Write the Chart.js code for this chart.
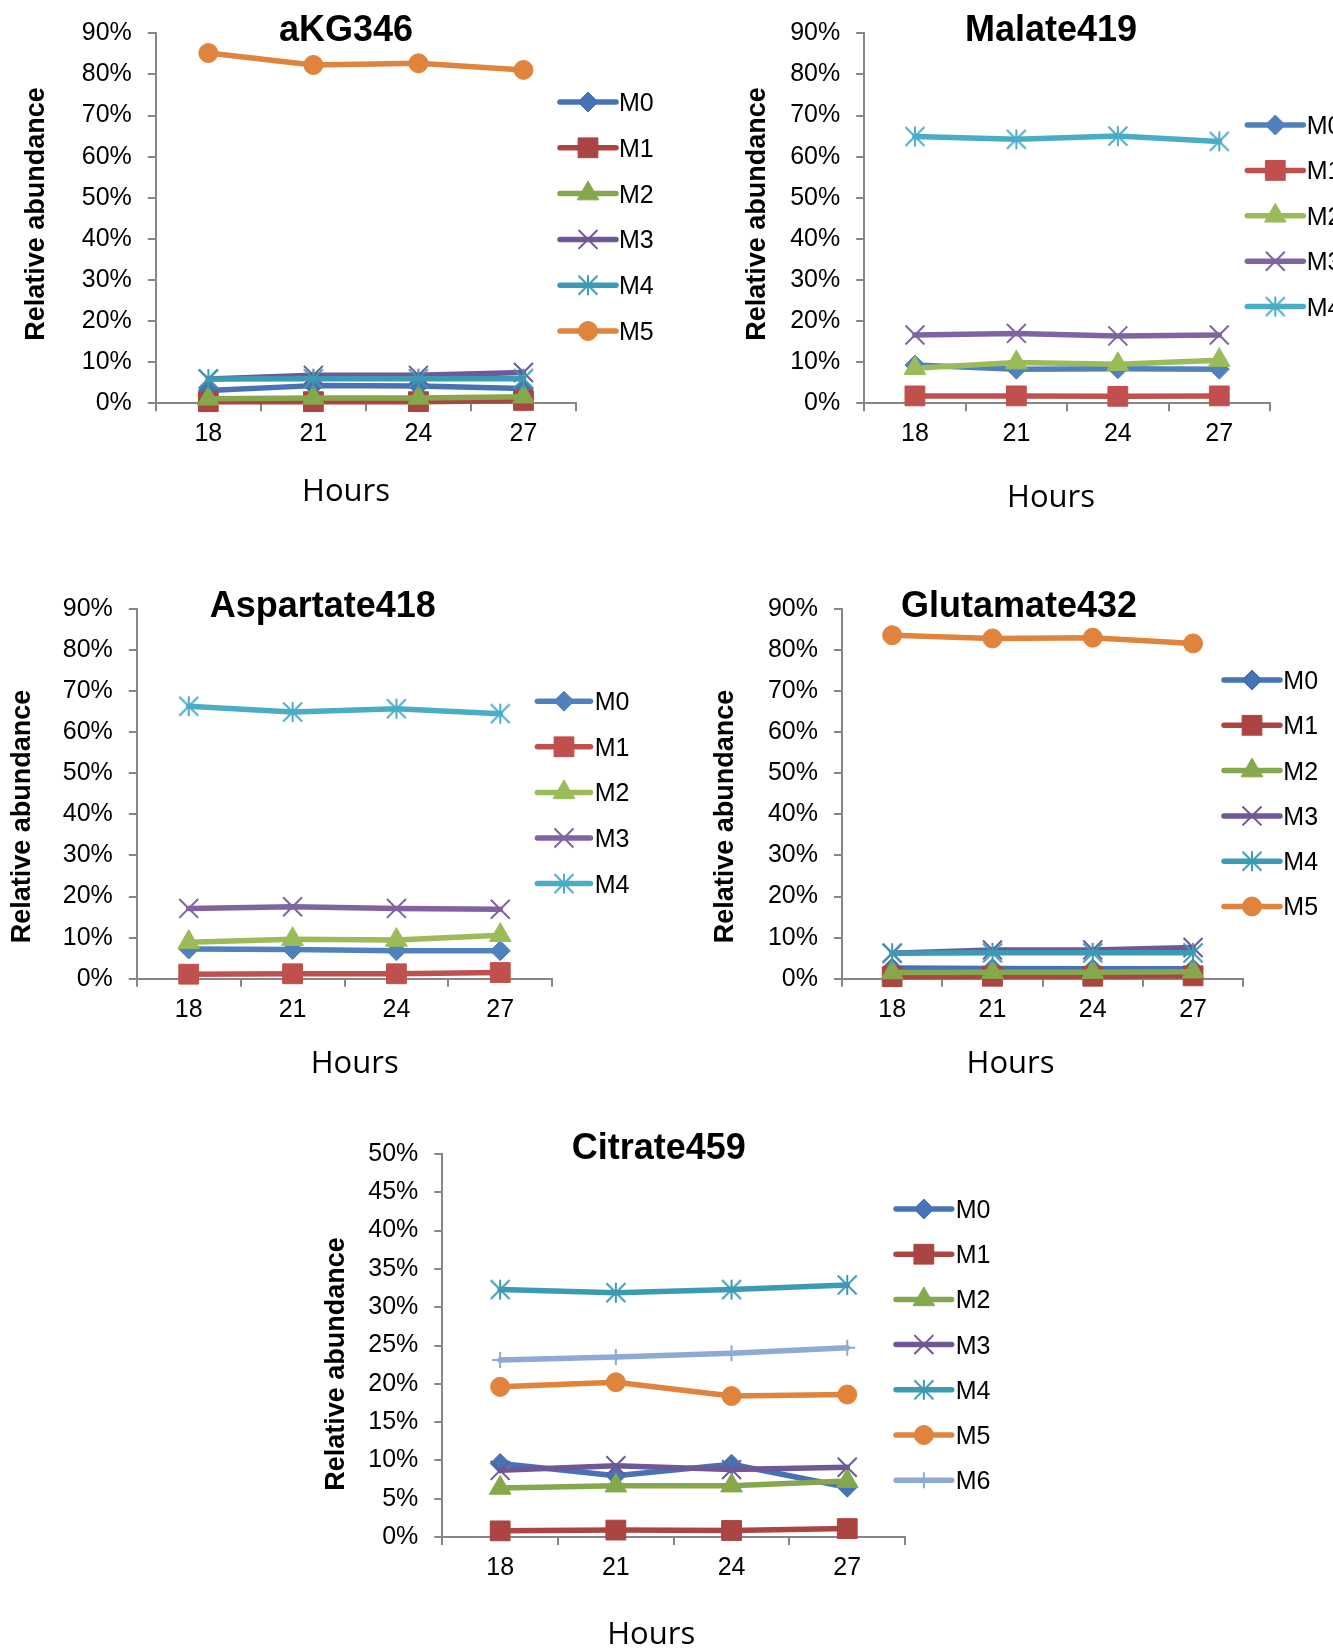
<!DOCTYPE html>
<html>
<head>
<meta charset="utf-8">
<title>Isotopologue distributions</title>
<script src="https://cdn.jsdelivr.net/npm/chart.js@4/dist/chart.umd.min.js"></script>
<style>
  html, body { margin: 0; padding: 0; background: #fff; }
  body { position: relative; width: 1333px; height: 1649px; overflow: hidden; }
  canvas { position: absolute; display: block; }
</style>
</head>
<body>
<canvas id="c1"></canvas>
<canvas id="c2"></canvas>
<canvas id="c3"></canvas>
<canvas id="c4"></canvas>
<canvas id="c5"></canvas>
<script>
// ---- data ---------------------------------------------------------------
const hours = ['18', '21', '24', '27'];
const isotopologues = ['M0', 'M1', 'M2', 'M3', 'M4', 'M5', 'M6'];

const pctTicks90 = [0, 10, 20, 30, 40, 50, 60, 70, 80, 90];
const pctTicks50 = [0, 5, 10, 15, 20, 25, 30, 35, 40, 45, 50];

// relative abundance (%) per isotopologue, one row per M0..Mn
const aKG346 = [
  [3.1, 4.3, 4.2, 3.6],
  [0.4, 0.4, 0.4, 0.7],
  [1.1, 1.3, 1.3, 1.6],
  [5.9, 6.8, 6.8, 7.5],
  [5.9, 6.0, 6.0, 6.0],
  [85.2, 82.3, 82.7, 81.1]
];
const malate419 = [
  [9.3, 8.3, 8.4, 8.3],
  [1.8, 1.8, 1.7, 1.8],
  [8.5, 9.9, 9.5, 10.5],
  [16.6, 17.0, 16.4, 16.6],
  [64.9, 64.2, 65.0, 63.7]
];
const aspartate418 = [
  [7.2, 7.1, 6.8, 6.8],
  [1.1, 1.2, 1.2, 1.5],
  [8.9, 9.6, 9.4, 10.6],
  [17.1, 17.5, 17.1, 16.9],
  [66.3, 64.9, 65.7, 64.5]
];
const glutamate432 = [
  [2.6, 2.5, 2.4, 2.4],
  [0.5, 0.6, 0.6, 0.7],
  [1.5, 1.6, 1.6, 1.7],
  [6.2, 7.0, 7.0, 7.6],
  [6.2, 6.3, 6.3, 6.3],
  [83.6, 82.8, 83.0, 81.6]
];
const citrate459 = [
  [9.6, 8.0, 9.5, 6.5],
  [0.8, 0.9, 0.85, 1.1],
  [6.4, 6.7, 6.7, 7.3],
  [8.7, 9.3, 8.8, 9.1],
  [32.3, 31.9, 32.3, 32.9],
  [19.6, 20.2, 18.4, 18.6],
  [23.1, 23.5, 24.0, 24.7]
];

// ---- styling ------------------------------------------------------------
const deepColors   = ['#4673B5', '#AB4542', '#86A84D', '#6F5798', '#3D9AB4', '#E0833C', '#8EA9D4'];
const brightColors = ['#4F81BD', '#C0504D', '#9BBB59', '#8064A2', '#4BACC6', '#F79646', '#95B3D7'];
const markerStyles = ['rectRot', 'rect', 'triangle', 'crossRot', 'asterisk', 'circle', 'cross'];
const markerRadii  = [10, 14, 12.5, 13.4, 10, 9.5, 8];
const markerStroke = [1, 1, 1, 2, 2, 1, 2];

const AXIS_GREY = '#868686';
const SANS = '"Liberation Sans", Arial, sans-serif';
const HOURS_FONT = '"Open Sans", Lato, sans-serif';

// six-armed asterisk marker (an X plus a vertical stroke), rendered once per colour
function asteriskMarker(color) {
  const c = document.createElement('canvas');
  c.width = 24; c.height = 24;
  const g = c.getContext('2d');
  g.strokeStyle = color;
  g.lineWidth = 2;
  g.lineCap = 'butt';
  g.beginPath();
  g.moveTo(2.5, 2.5); g.lineTo(21.5, 21.5);
  g.moveTo(21.5, 2.5); g.lineTo(2.5, 21.5);
  g.moveTo(12, 2); g.lineTo(12, 22);
  g.stroke();
  return c;
}

// titles, axis captions and the line+marker legend
const decorPlugin = {
  id: 'decor',
  afterDraw(chart, args, o) {
    const ctx = chart.ctx;
    ctx.save();
    ctx.fillStyle = '#000';
    ctx.textBaseline = 'alphabetic';

    ctx.textAlign = 'center';
    ctx.font = 'bold ' + o.titleSize + 'px ' + SANS;
    ctx.fillText(o.title, o.titlePos[0], o.titlePos[1] + 0.358 * o.titleSize);

    ctx.font = o.xTitleSize + 'px ' + HOURS_FONT;
    ctx.fillText(o.xTitle, o.xTitlePos[0], o.xTitlePos[1] + 0.357 * o.xTitleSize);

    ctx.save();
    ctx.translate(o.yTitlePos[0], o.yTitlePos[1]);
    ctx.rotate(-Math.PI / 2);
    ctx.font = 'bold ' + o.yTitleSize + 'px ' + SANS;
    ctx.fillText(o.yTitle, 0, 0.36 * o.yTitleSize);
    ctx.restore();

    const lg = o.legend;
    chart.data.datasets.forEach((ds, i) => {
      const y = lg.y0 + i * lg.step;
      ctx.save();
      ctx.strokeStyle = ds.borderColor;
      ctx.lineWidth = ds.borderWidth;
      ctx.lineCap = 'round';
      ctx.beginPath();
      ctx.moveTo(lg.x0, y);
      ctx.lineTo(lg.x1, y);
      ctx.stroke();
      ctx.fillStyle = ds.pointBackgroundColor;
      ctx.strokeStyle = ds.pointBorderColor;
      ctx.lineWidth = ds.pointBorderWidth;
      ctx.lineCap = 'butt';
      Chart.helpers.drawPoint(ctx, {
        pointStyle: ds.pointStyle, radius: ds.pointRadius,
        borderWidth: ds.pointBorderWidth, rotation: 0
      }, (lg.x0 + lg.x1) / 2, y);
      ctx.restore();
      ctx.textAlign = 'left';
      ctx.fillStyle = '#000';
      ctx.font = lg.size + 'px ' + SANS;
      ctx.fillText(ds.label, lg.tx, y + 0.358 * lg.size);
    });
    ctx.restore();
  }
};

// panel geometry (canvas box + plot rectangle inside it)
const panels = [
  { id: 'c1', box: [0, 0, 666, 530], plot: [155.8, 33.3, 576, 403.3],
    name: 'aKG346', values: aKG346, ticks: pctTicks90, palette: deepColors, lw: 5.5,
    titlePos: [346, 28], xTitlePos: [346, 490], yTitlePos: [34, 214],
    legend: { x0: 560, x1: 616, tx: 619, y0: 102, step: 45.8 } },
  { id: 'c2', box: [666, 0, 667, 530], plot: [198.2, 33.3, 604, 403.3],
    name: 'Malate419', values: malate419, ticks: pctTicks90, palette: brightColors, lw: 5.5,
    titlePos: [385, 28], xTitlePos: [385, 496], yTitlePos: [89, 214],
    legend: { x0: 581.3, x1: 637.3, tx: 640.7, y0: 125, step: 45.4 } },
  { id: 'c3', box: [0, 540, 666, 540], plot: [136.8, 68.9, 552.2, 438.7],
    name: 'Aspartate418', values: aspartate418, ticks: pctTicks90, palette: brightColors, lw: 5.5,
    titlePos: [322.8, 64], xTitlePos: [354.7, 522], yTitlePos: [20.4, 276.5],
    legend: { x0: 537.4, x1: 590.5, tx: 594.7, y0: 161.2, step: 45.6 } },
  { id: 'c4', box: [666, 540, 667, 540], plot: [176, 68.9, 577.2, 438.7],
    name: 'Glutamate432', values: glutamate432, ticks: pctTicks90, palette: deepColors, lw: 5.5,
    titlePos: [353, 64], xTitlePos: [344.5, 522], yTitlePos: [57.4, 276.5],
    legend: { x0: 558, x1: 614, tx: 617.3, y0: 140, step: 45.3 } },
  { id: 'c5', box: [300, 1100, 733, 549], plot: [142.3, 54, 605.1, 437],
    name: 'Citrate459', values: citrate459, ticks: pctTicks50, palette: deepColors, lw: 5.5,
    titlePos: [358.8, 46], xTitlePos: [351.2, 533], yTitlePos: [34.4, 264],
    legend: { x0: 596, x1: 651.7, tx: 655.7, y0: 109, step: 45.2 } }
];

function buildPanel(p) {
  const cv = document.getElementById(p.id);
  const [bx, by, bw, bh] = p.box;
  const [pl, pt, pr, pb] = p.plot;
  cv.width = bw; cv.height = bh;
  cv.style.left = bx + 'px'; cv.style.top = by + 'px';
  cv.style.width = bw + 'px'; cv.style.height = bh + 'px';

  const n = p.values.length;
  const datasets = p.values.map((vals, i) => {
    const color = p.palette[i];
    const style = markerStyles[i] === 'asterisk' ? asteriskMarker(color) : markerStyles[i];
    return {
      label: isotopologues[i],
      data: vals,
      borderColor: color,
      backgroundColor: color,
      pointBackgroundColor: color,
      pointBorderColor: color,
      borderWidth: p.lw,
      borderCapStyle: 'round',
      borderJoinStyle: 'round',
      pointStyle: style,
      pointRadius: markerRadii[i],
      pointHoverRadius: markerRadii[i],
      pointBorderWidth: markerStroke[i],
      tension: 0,
      clip: false,
      order: n - i
    };
  });

  const yMax = p.ticks[p.ticks.length - 1];
  new Chart(cv, {
    type: 'line',
    data: { labels: hours, datasets },
    plugins: [decorPlugin],
    options: {
      responsive: false,
      animation: false,
      devicePixelRatio: 1,
      events: [],
      layout: { padding: { left: 0, top: pt, right: bw - pr, bottom: 0 } },
      plugins: {
        legend: { display: false },
        title: { display: false },
        tooltip: { enabled: false },
        decor: {
          title: p.name, titleSize: 36, titlePos: p.titlePos,
          xTitle: 'Hours', xTitleSize: 31, xTitlePos: p.xTitlePos,
          yTitle: 'Relative abundance', yTitleSize: 27, yTitlePos: p.yTitlePos,
          legend: Object.assign({ size: 25 }, p.legend)
        }
      },
      scales: {
        x: {
          type: 'category',
          offset: true,
          grid: { offset: true, drawOnChartArea: false, drawTicks: true, tickLength: 8, color: AXIS_GREY, lineWidth: 2 },
          border: { display: true, color: AXIS_GREY, width: 2 },
          ticks: { color: '#000', padding: 8, maxRotation: 0, autoSkip: false, font: { family: SANS, size: 25 } },
          afterFit(s) { s.height = bh - pb; }
        },
        y: {
          min: 0,
          max: yMax,
          afterBuildTicks(s) { s.ticks = p.ticks.map(v => ({ value: v })); },
          grid: { drawOnChartArea: false, drawTicks: true, tickLength: 8, color: AXIS_GREY, lineWidth: 2 },
          border: { display: true, color: AXIS_GREY, width: 2 },
          ticks: { color: '#000', padding: 16, font: { family: SANS, size: 25 }, callback: v => v + '%' },
          afterFit(s) { s.width = pl; }
        }
      }
    }
  });
}

panels.forEach(buildPanel);
</script>
</body>
</html>
